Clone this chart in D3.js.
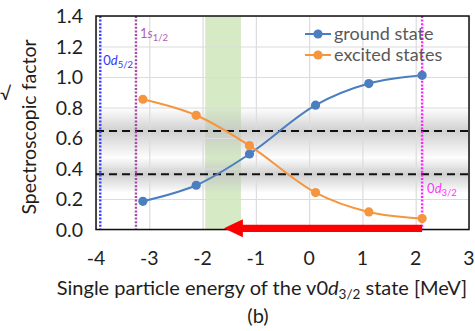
<!DOCTYPE html>
<html>
<head>
<meta charset="utf-8">
<script src="https://cdn.jsdelivr.net/npm/d3@7"></script>
<style>
  html, body { margin: 0; padding: 0; background: #fff; }
  svg { display: block; }
  text { font-family: Lato, "Open Sans", sans-serif; }
</style>
</head>
<body>
<svg id="chart" width="475" height="331"></svg>
<script>
// Single-particle energy of the v0d3/2 state (MeV)
const energies = [-3.12, -2.12, -1.12, 0.12, 1.12, 2.12];
// Spectroscopic factors
const groundState = [0.185, 0.29, 0.495, 0.815, 0.957, 1.011];
const excitedStates = [0.854, 0.749, 0.550, 0.242, 0.115, 0.072];

const seriesNames = ["ground state", "excited states"];
const seriesColors = ["#4a7ebf", "#f5963f"];

const xTickValues = [-4, -3, -2, -1, 0, 1, 2, 3];
const yTickValues = [0, 0.2, 0.4, 0.6, 0.8, 1.0, 1.2, 1.4];

// horizontal threshold lines and the shaded ranges around them
const thresholds = [0.646, 0.362];
const shadeRanges = [[0.475, 0.80], [0.245, 0.475]];

// green energy window
const window_ = [-1.95, -1.28];

// orbital markers
const orbitals = [
  { e: -3.92, pre: "0", it: "d", sub: "5/2", color: "#3434ff", lineColor: "#3a3aff" },
  { e: -3.25, pre: "1", it: "s", sub: "1/2", color: "#b25ab2", lineColor: "#a54aa5" },
  { e: 2.12, pre: "0", it: "d", sub: "3/2", color: "#ff33ff", lineColor: "#ff22ff" }
];

// red arrow along the energy axis
const arrowFrom = 2.12, arrowTo = -1.6;

const svg = d3.select("#chart");
const plot = { left: 96, right: 469, top: 16, bottom: 229.5 };
const W = plot.right - plot.left, H = plot.bottom - plot.top;

const x = d3.scaleLinear().domain([-4, 3]).range([plot.left, plot.right]);
const y = d3.scaleLinear().domain([0, 1.4]).range([plot.bottom, plot.top]);

const defs = svg.append("defs");

// green window
svg.append("rect")
  .attr("x", x(window_[0])).attr("y", plot.top)
  .attr("width", x(window_[1]) - x(window_[0])).attr("height", H)
  .attr("fill", "#d6eac6");

// grey shaded ranges, darkest at the threshold
shadeRanges.forEach((r, i) => {
  const id = "shade" + i;
  const peak = (r[1] - thresholds[i]) / (r[1] - r[0]);
  const g = defs.append("linearGradient").attr("id", id)
    .attr("x1", 0).attr("y1", 0).attr("x2", 0).attr("y2", 1);
  g.append("stop").attr("offset", 0).attr("stop-color", "#c4c4c4").attr("stop-opacity", 0);
  g.append("stop").attr("offset", peak).attr("stop-color", "#c4c4c4").attr("stop-opacity", 0.8);
  g.append("stop").attr("offset", 1).attr("stop-color", "#c4c4c4").attr("stop-opacity", 0.05);
  svg.append("rect")
    .attr("x", plot.left).attr("y", y(r[1]))
    .attr("width", W).attr("height", y(r[0]) - y(r[1]))
    .attr("fill", `url(#${id})`);
});

// gridlines
svg.append("g")
  .attr("transform", `translate(${plot.left},0)`)
  .call(d3.axisLeft(y).tickValues(yTickValues).tickSize(-W).tickFormat(""))
  .call(g => g.select(".domain").remove())
  .call(g => g.selectAll("line").attr("stroke", "#dcdcdc").attr("stroke-width", 1.2));
svg.append("g")
  .attr("transform", `translate(0,${plot.bottom})`)
  .call(d3.axisBottom(x).tickValues(xTickValues).tickSize(-H).tickFormat(""))
  .call(g => g.select(".domain").remove())
  .call(g => g.selectAll("line").attr("stroke", "#dcdcdc").attr("stroke-width", 1.2));

// threshold dashed lines
svg.selectAll("line.thr").data(thresholds).join("line")
  .attr("class", "thr")
  .attr("x1", plot.left).attr("x2", plot.right)
  .attr("y1", d => y(d)).attr("y2", d => y(d))
  .attr("stroke", "#111").attr("stroke-width", 2).attr("stroke-dasharray", "8,5");

// orbital markers
svg.selectAll("line.orb").data(orbitals).join("line")
  .attr("class", "orb")
  .attr("x1", d => x(d.e)).attr("x2", d => x(d.e))
  .attr("y1", plot.top).attr("y2", plot.bottom)
  .attr("stroke", d => d.lineColor).attr("stroke-width", 2.4)
  .attr("stroke-dasharray", "2,1.6");

const labelPos = [
  { dx: 3, y: 65 },
  { dx: 4, y: 38 },
  { dx: 5, y: 193 }
];
orbitals.forEach((o, i) => {
  const t = svg.append("text")
    .attr("x", x(o.e) + labelPos[i].dx).attr("y", labelPos[i].y)
    .attr("fill", o.color).attr("font-size", 13);
  t.append("tspan").text(o.pre);
  t.append("tspan").attr("font-style", "italic").text(o.it);
  t.append("tspan").attr("font-size", 9.5).attr("dy", 3).text(o.sub);
});

// frame
svg.append("rect")
  .attr("x", plot.left).attr("y", plot.top).attr("width", W).attr("height", H)
  .attr("fill", "none").attr("stroke", "#111").attr("stroke-width", 1.5);

// series
const line = d3.line().x(d => x(d[0])).y(d => y(d[1])).curve(d3.curveCatmullRom.alpha(0.5));
[groundState, excitedStates].forEach((vals, i) => {
  const pts = energies.map((e, k) => [e, vals[k]]);
  svg.append("path").datum(pts)
    .attr("d", line).attr("fill", "none")
    .attr("stroke", seriesColors[i]).attr("stroke-width", 2);
  svg.append("g").selectAll("circle").data(pts).join("circle")
    .attr("cx", d => x(d[0])).attr("cy", d => y(d[1])).attr("r", 4.6)
    .attr("fill", seriesColors[i]);
});

// red arrow
{
  const yc = y(0) - 1.2, half = 3.6, headHalf = 9, headLen = 19;
  const x0 = x(arrowTo), x1 = x(arrowFrom);
  const p = d3.path();
  p.moveTo(x0, yc);
  p.lineTo(x0 + headLen, yc - headHalf);
  p.lineTo(x0 + headLen, yc - half);
  p.lineTo(x1, yc - half);
  p.lineTo(x1, yc + half);
  p.lineTo(x0 + headLen, yc + half);
  p.lineTo(x0 + headLen, yc + headHalf);
  p.closePath();
  svg.append("path").attr("d", p.toString()).attr("fill", "#ff0000");
}

// tick labels
svg.append("g").selectAll("text").data(yTickValues).join("text")
  .attr("x", 83).attr("y", d => y(d)).attr("dy", "0.36em")
  .attr("text-anchor", "end").attr("font-size", 19.5).attr("fill", "#1e1e1e")
  .text(d => d3.format(".1f")(d));
svg.append("g").selectAll("text").data(xTickValues).join("text")
  .attr("x", d => x(d)).attr("y", 265)
  .attr("text-anchor", "middle").attr("font-size", 19.5).attr("fill", "#1e1e1e")
  .text(d => d);

// axis titles
svg.append("text")
  .attr("transform", "translate(36,127) rotate(-90)")
  .attr("text-anchor", "middle").attr("font-size", 19.5).attr("fill", "#1e1e1e")
  .text("Spectroscopic factor");
svg.append("text")
  .attr("x", 0).attr("y", 100).attr("font-size", 18).attr("fill", "#1e1e1e")
  .text("√");

const xt = svg.append("text")
  .attr("x", 262).attr("y", 295).attr("text-anchor", "middle")
  .attr("font-size", 20).attr("fill", "#1e1e1e");
xt.append("tspan").text("Single particle energy of the v0");
xt.append("tspan").attr("font-style", "italic").text("d");
xt.append("tspan").attr("font-size", 13.5).attr("dy", 4).text("3/2");
xt.append("tspan").attr("dy", -4).text(" state [MeV]");

svg.append("text")
  .attr("x", 258).attr("y", 323).attr("text-anchor", "middle")
  .attr("font-size", 20).attr("fill", "#1e1e1e")
  .text("(b)");

// legend
const legend = svg.append("g");
seriesNames.forEach((name, i) => {
  const ly = 34 + i * 21;
  legend.append("line").attr("x1", 305).attr("x2", 331).attr("y1", ly).attr("y2", ly)
    .attr("stroke", seriesColors[i]).attr("stroke-width", 2);
  legend.append("circle").attr("cx", 318).attr("cy", ly).attr("r", 4.6).attr("fill", seriesColors[i]);
  legend.append("text").attr("x", 334).attr("y", ly).attr("dy", "0.35em")
    .attr("font-size", 18).attr("fill", "#595959").text(name);
});
</script>
</body>
</html>
